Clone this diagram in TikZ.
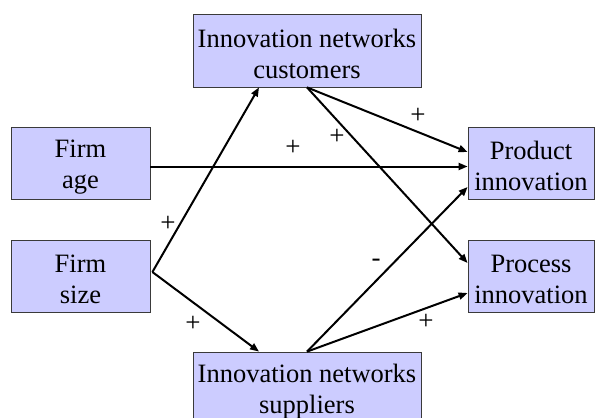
\documentclass[tikz,border=0pt]{standalone}
\usepackage{fontspec}
\setmainfont{Liberation Serif}
\usetikzlibrary{arrows.meta}
\definecolor{boxfill}{HTML}{CCCCFF}
\definecolor{boxline}{HTML}{3A3A3A}
\newcommand{\lift}{\rule{0pt}{25pt}}
\tikzset{
  box/.style={draw=boxline, line width=0.8pt, fill=boxfill, align=center,
    inner sep=0pt, font=\fontsize{26.5}{31}\selectfont},
  wide/.style={minimum width=228pt, minimum height=73pt},
  side/.style={minimum width=139pt, minimum height=72pt},
  rside/.style={minimum width=126pt, minimum height=72pt},
  conn/.style={line width=2pt, -{Triangle[length=9pt,width=7pt]}},
  sign/.style={font=\fontsize{27}{31}\selectfont, inner sep=0pt}
}
\begin{document}
\begin{tikzpicture}[x=1pt,y=-1pt]
\useasboundingbox (0,0) rectangle (598,418);
\fill[white] (0,0) rectangle (598,418);
\node[box, wide] (cust) at (307,50.5) {\lift Innovation networks\\customers};
\node[box, wide] (supp) at (307,388.5) {\lift Innovation networks\\suppliers};
\node[box, side] (age) at (80.5,163) {\lift Firm\\age};
\node[box, side] (size) at (80.5,276) {\lift Firm\\size};
\node[box, rside] (prod) at (531,163) {\lift Product\\innovation};
\node[box, rside] (proc) at (531,276) {\lift Process\\innovation};
% connectors
\draw[conn] ([yshift=-3.5pt]age.east) -- ([yshift=-3.5pt]prod.west);
\draw[conn] ([shift={(2pt,4pt)}]size.east) -- ([xshift=-48pt]cust.south);
\draw[conn] ([shift={(2pt,4pt)}]size.east) -- ([xshift=-48pt]supp.north);
\draw[conn] (cust.south) -- ([yshift=11pt]prod.west);
\draw[conn] (cust.south) -- ([yshift=13pt]proc.west);
\draw[conn] (supp.north) -- ([yshift=-24pt]prod.west);
\draw[conn] (supp.north) -- ([yshift=-17pt]proc.west);
% signs
\node[sign] (s1) at (418,116) {+};
\node[sign] (s2) at (337,137) {+};
\node[sign] (s3) at (293,148) {+};
\node[sign] (s4) at (168,224) {+};
\node[sign] (s5) at (193,324) {+};
\node[sign] (s6) at (426,322) {+};
\node[sign] (s7) at (376,263) {-};
\end{tikzpicture}
\end{document}
